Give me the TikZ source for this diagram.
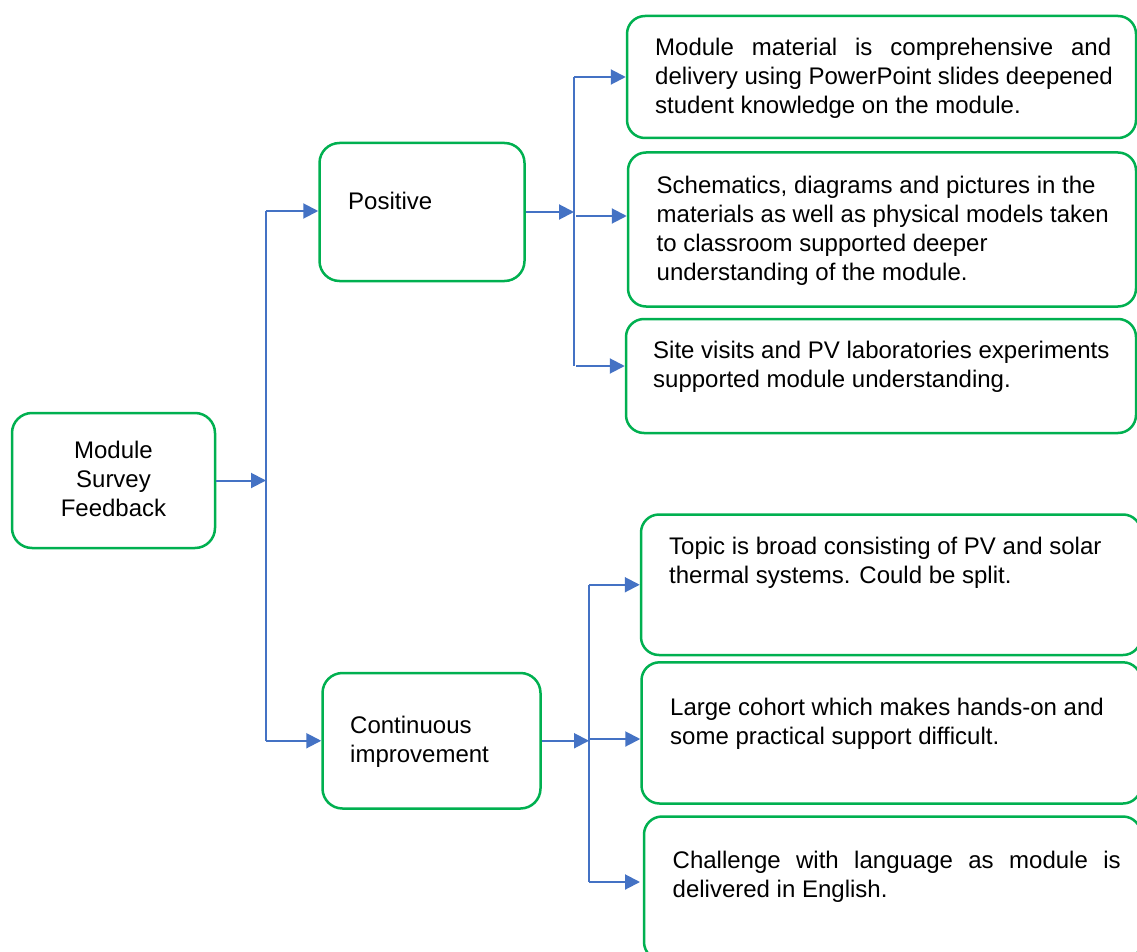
\documentclass[tikz,border=0pt]{standalone}
\usepackage{fontspec}
\setmainfont{Liberation Sans}
\usetikzlibrary{arrows.meta,calc}
\definecolor{boxgreen}{RGB}{0,176,80}
\definecolor{arrblue}{RGB}{68,114,196}
\newcommand{\fstrut}{\rule{0pt}{22pt}}
\begin{document}
\begin{tikzpicture}[x=1pt,y=-1pt,
  box/.style={draw=boxgreen, line width=2.5pt, rounded corners=20pt, inner sep=0pt},
  rbox/.style={box, rounded corners=18pt},
  txt/.style={inner sep=0pt, anchor=north west, align=left, font=\fontsize{24}{29.2}\selectfont},
  ctxt/.style={txt, anchor=north, align=center},
  arr/.style={draw=arrblue, line width=2pt, -{Triangle[length=15pt,width=15pt]}},
  vline/.style={draw=arrblue, line width=1.5pt}]
\clip (0,0) rectangle (1137,952);
\fill[white] (0,0) rectangle (1137,952);

% boxes
\node[box, minimum width=203pt, minimum height=135pt] (root) at (113.5,480.5) {};
\node[box, minimum width=205pt, minimum height=138pt] (pos) at (422,212) {};
\node[box, minimum width=218pt, minimum height=135.5pt] (cont) at (431.5,740.75) {};
\node[rbox, minimum width=509pt, minimum height=122pt] (p1) at (881.5,77) {};
\node[rbox, minimum width=508pt, minimum height=154pt] (p2) at (882,229.5) {};
\node[rbox, minimum width=510pt, minimum height=114pt] (p3) at (881,376) {};
\node[rbox, minimum width=500pt, minimum height=140.5pt] (c1) at (891,584.75) {};
\node[rbox, minimum width=499.5pt, minimum height=141.2pt] (c2) at (891.25,732.9) {};
\node[rbox, minimum width=497pt, minimum height=143.5pt] (c3) at (892.5,888.25) {};

% texts
\node[ctxt] (troot) at (113.5,436) {\fstrut Module\\Survey\\Feedback};
\node[txt] (tpos) at (348,187) {\fstrut Positive};
\node[txt] (tcont) at (350,711) {\fstrut Continuous\\improvement};
\node[txt] (tp1) at (655,33) {\fstrut\makebox[456pt][s]{Module material is comprehensive and}\\delivery using PowerPoint slides deepened\\student knowledge on the module.};
\node[txt] (tp2) at (656.5,171) {\fstrut Schematics, diagrams and pictures in the\\materials as well as physical models taken\\to classroom supported deeper\\understanding of the module.};
\node[txt] (tp3) at (653,336) {\fstrut Site visits and PV laboratories experiments\\supported module understanding.};
\node[txt] (tc1) at (669,532.5) {\fstrut Topic is broad consisting of PV and solar\\thermal systems. Could be split.};
\node[txt] (tc2) at (670,693.5) {\fstrut Large cohort which makes hands-on and\\some practical support difficult.};
\node[txt] (tc3) at (672.5,846) {\fstrut\makebox[448pt][s]{Challenge with language as module is}\\delivered in English.};

% first level
\coordinate (j1) at (266,480.5);
\draw[arr] (root.east) -- (j1);
\draw[vline] (266,211) -- (266,740.75);
\draw[arr] (266,211) -- (pos.west |- 266,211);
\draw[arr] (266,740.75) -- (cont.west);

% positive branch
\coordinate (j2) at (574,212);
\draw[arr] (pos.east) -- (j2);
\draw[vline] (574,77) -- (574,366);
\draw[arr] (574,77) -- (p1.west);
\draw[arr] (576,216) -- (p2.west |- 576,216);
\draw[arr] (576,366) -- (p3.west |- 576,366);

% continuous branch
\coordinate (j3) at (589,740.75);
\draw[arr] (cont.east) -- (j3);
\draw[vline] (589,584.75) -- (589,882);
\draw[arr] (589,584.75) -- (c1.west);
\draw[arr] (589,739) -- (c2.west |- 589,739);
\coordinate (c3in) at (640,882);
\draw[arr] (589,882) -- (c3in);
\end{tikzpicture}
\end{document}
